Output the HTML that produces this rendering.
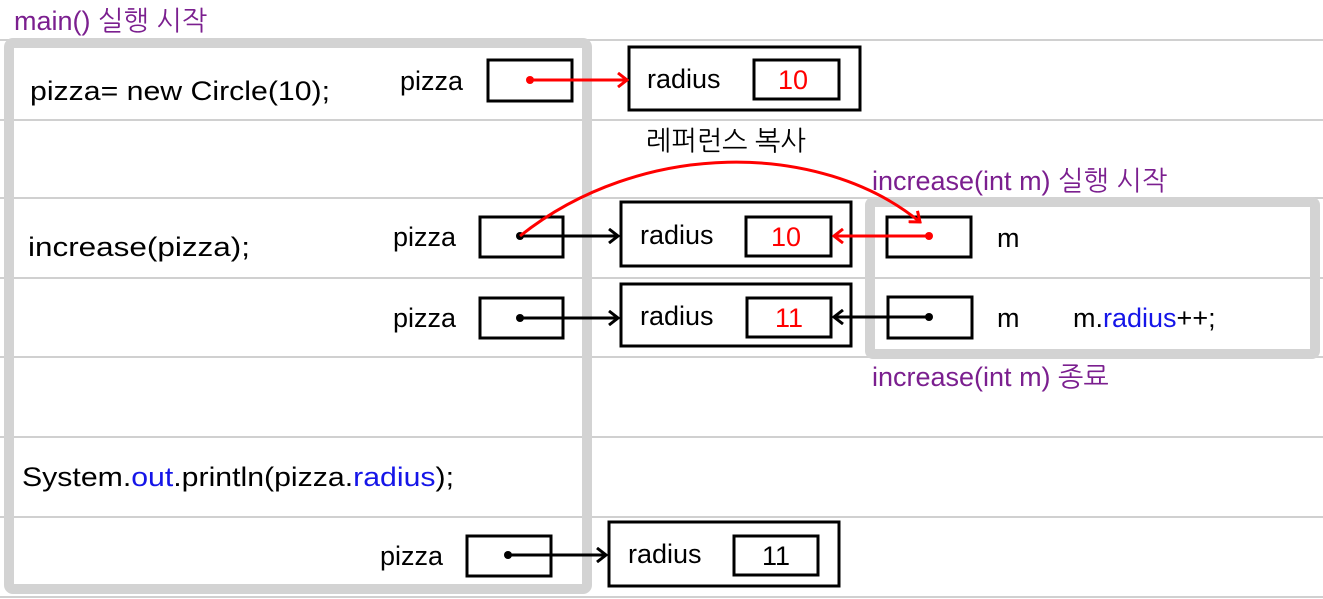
<!DOCTYPE html>
<html><head><meta charset="utf-8"><style>
html,body{margin:0;padding:0;background:#fff;width:1323px;height:599px;overflow:hidden}
text{font-family:"Liberation Sans","NanumGothic","Noto Sans CJK KR",sans-serif;font-size:27px}
</style></head><body>
<svg width="1323" height="599" viewBox="0 0 1323 599" xmlns="http://www.w3.org/2000/svg">
<defs>
<marker id="ab" markerWidth="12" markerHeight="16" refX="10" refY="8" orient="auto" markerUnits="userSpaceOnUse"><path d="M1,1 L10,8 L1,15" fill="none" stroke="#000" stroke-width="3"/></marker>
<marker id="ar" markerWidth="12" markerHeight="16" refX="10" refY="8" orient="auto" markerUnits="userSpaceOnUse"><path d="M1,1 L10,8 L1,15" fill="none" stroke="#f00" stroke-width="3"/></marker>
</defs>
<g stroke="#d0d0d0" stroke-width="2">
<line x1="0" y1="40" x2="1323" y2="40"/><line x1="0" y1="120" x2="1323" y2="120"/>
<line x1="0" y1="198" x2="1323" y2="198"/><line x1="0" y1="278" x2="1323" y2="278"/>
<line x1="0" y1="357" x2="1323" y2="357"/><line x1="0" y1="437" x2="1323" y2="437"/>
<line x1="0" y1="517" x2="1323" y2="517"/><line x1="0" y1="597" x2="1323" y2="597"/>
</g>
<rect x="9" y="43" width="578" height="546" rx="4" fill="none" stroke="#d3d3d3" stroke-width="10"/>
<rect x="870" y="202" width="445" height="152" rx="3" fill="none" stroke="#d3d3d3" stroke-width="10"/>
<text x="14" y="30" fill="#7b1f8f" font-size="25">main() 실행 시작</text>
<text x="30" y="100" font-size="29" textLength="300" lengthAdjust="spacingAndGlyphs">pizza= new Circle(10);</text>
<text x="28" y="256" font-size="29" textLength="222" lengthAdjust="spacingAndGlyphs">increase(pizza);</text>
<text x="22" y="486" font-size="29" textLength="432" lengthAdjust="spacingAndGlyphs">System.<tspan fill="#1515e8">out</tspan>.println(pizza.<tspan fill="#1515e8">radius</tspan>);</text>
<g fill="none" stroke="#000" stroke-width="3">
<rect x="488" y="60" width="84" height="41"/><rect x="629" y="47" width="231" height="63"/><rect x="754" y="60" width="85" height="39"/>
<rect x="480" y="217" width="83" height="40"/><rect x="621" y="202" width="230" height="64"/><rect x="746" y="217" width="85" height="39"/>
<rect x="887" y="217" width="84" height="40"/>
<rect x="480" y="298" width="83" height="40"/><rect x="621" y="284" width="230" height="62"/><rect x="747" y="298" width="84" height="39"/>
<rect x="888" y="297" width="84" height="41"/>
<rect x="467" y="536" width="84" height="40"/><rect x="609" y="522" width="230" height="64"/><rect x="734" y="536" width="84" height="39"/>
</g>
<text x="400" y="90">pizza</text><text x="647" y="88">radius</text><text x="778" y="89" fill="#f00">10</text>
<text x="393" y="246">pizza</text><text x="640" y="244">radius</text><text x="771" y="246" fill="#f00">10</text>
<text x="997" y="247">m</text>
<text x="393" y="327">pizza</text><text x="640" y="325">radius</text><text x="775" y="327" fill="#f00">11</text>
<text x="997" y="327">m</text><text x="1073" y="327">m.<tspan fill="#1515e8">radius</tspan>++;</text>
<text x="380" y="565">pizza</text><text x="628" y="563">radius</text><text x="762" y="565">11</text>
<text x="646" y="150" font-size="24">레퍼런스 복사</text>
<text x="872" y="190" fill="#7b1f8f" font-size="25">increase(int m) 실행 시작</text>
<text x="872" y="386" fill="#7b1f8f" font-size="25">increase(int m) 종료</text>
<line x1="530" y1="80" x2="627" y2="80" stroke="#f00" stroke-width="3" marker-end="url(#ar)"/><circle cx="530" cy="80" r="4" fill="#f00"/>
<line x1="520" y1="236" x2="618" y2="236" stroke="#000" stroke-width="3" marker-end="url(#ab)"/><circle cx="520" cy="236" r="4"/>
<path d="M520,236 C640,140 820,140 920,222" fill="none" stroke="#f00" stroke-width="3" marker-end="url(#ar)"/>
<line x1="929" y1="236" x2="834" y2="236" stroke="#f00" stroke-width="3" marker-end="url(#ar)"/><circle cx="929" cy="236" r="4" fill="#f00"/>
<line x1="520" y1="318" x2="618" y2="318" stroke="#000" stroke-width="3" marker-end="url(#ab)"/><circle cx="520" cy="318" r="4"/>
<line x1="929" y1="317" x2="834" y2="317" stroke="#000" stroke-width="3" marker-end="url(#ab)"/><circle cx="929" cy="317" r="4"/>
<line x1="508" y1="555" x2="606" y2="555" stroke="#000" stroke-width="3" marker-end="url(#ab)"/><circle cx="508" cy="555" r="4"/>
</svg>
</body></html>
